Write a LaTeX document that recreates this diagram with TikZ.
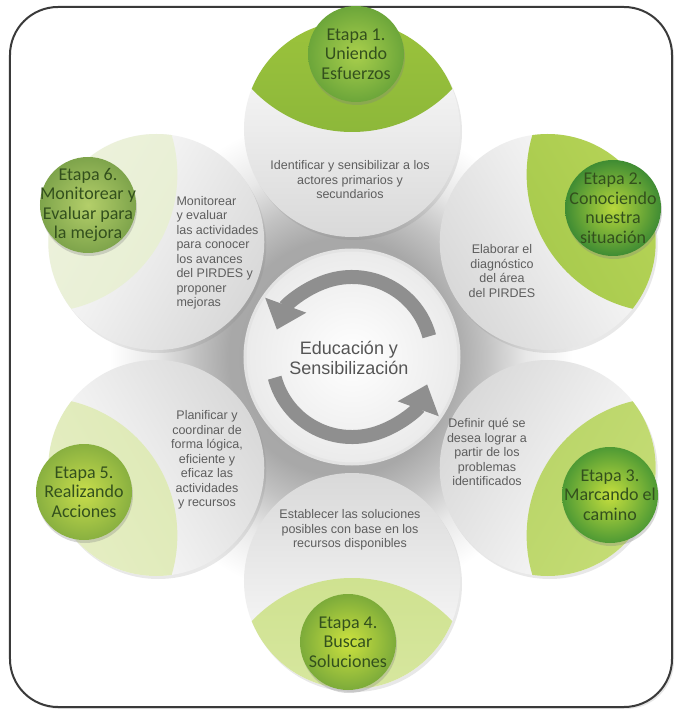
\documentclass[tikz,border=0pt]{standalone}
\usepackage{fontspec}
\setmainfont{Liberation Sans}
\newfontfamily\stagefont{Carlito}
\usepackage{xcolor}
\usepackage{tikz}
\usetikzlibrary{arrows.meta,shadows}

\definecolor{framegray}{HTML}{3A3A3A}
\definecolor{descgray}{HTML}{5E5E5E}
\definecolor{hubgray}{HTML}{555555}
\definecolor{cycgray}{HTML}{8F8F8F}
\definecolor{stagegreen}{HTML}{33501D}
% lens colours (outer, inner)
\definecolor{lensAo}{HTML}{B0D23E}\definecolor{lensAi}{HTML}{8DB83A}
\definecolor{lensBo}{HTML}{C6DE62}\definecolor{lensBi}{HTML}{A9CB4E}
\definecolor{lensCo}{HTML}{D3E585}\definecolor{lensCi}{HTML}{BBD66A}
\definecolor{lensDo}{HTML}{E2EDB4}\definecolor{lensDi}{HTML}{CFE290}
\definecolor{lensEo}{HTML}{EDF3D2}\definecolor{lensEi}{HTML}{DFEAB8}
\definecolor{lensFo}{HTML}{F3F6E6}\definecolor{lensFi}{HTML}{E8EFD4}
% ball colours (inner, outer)
\definecolor{ballAi}{HTML}{A9CF4C}\definecolor{ballAo}{HTML}{6CA63A}
\definecolor{ballBi}{HTML}{B9D83C}\definecolor{ballBo}{HTML}{3F8C33}
\definecolor{ballCi}{HTML}{C6DF3E}\definecolor{ballCo}{HTML}{4E9A34}
\definecolor{ballDi}{HTML}{CCE23F}\definecolor{ballDo}{HTML}{7CAB3A}
\definecolor{ballEi}{HTML}{C8DE4C}\definecolor{ballEo}{HTML}{89B040}
\definecolor{ballFi}{HTML}{B4CF6A}\definecolor{ballFo}{HTML}{7EA44B}

% frame boundary sits at 25bp
\pgfdeclareradialshading{haze}{\pgfpoint{0bp}{0bp}}{color(0bp)=(gray!75); color(8.5bp)=(gray!68); color(11bp)=(gray!48); color(14bp)=(gray!18); color(17.5bp)=(white); color(50bp)=(white)}

\begin{document}
\begin{tikzpicture}
    [x=1pt,y=1pt,
    frame/.style={draw=framegray,line width=2pt,rounded corners=48pt},
    petal/.style={shape=circle,minimum size=216pt,inner sep=0pt,top color=white,bottom color=gray!30,
      drop shadow={opacity=0.18,shadow xshift=2pt,shadow yshift=-3pt}},
    hub/.style={shape=circle,minimum size=214pt,inner sep=0pt,draw=gray!22,line width=3pt,inner color=white,outer color=gray!16},
    ball/.style={shape=circle,minimum size=96pt,inner sep=0pt,
      drop shadow={opacity=0.3,shadow xshift=1pt,shadow yshift=-3pt}},
    stage/.style={font=\stagefont\fontsize{18}{19.5}\selectfont,text=stagegreen,align=center},
    desc/.style={font=\fontsize{12.5}{14.5}\selectfont,text=descgray,align=center},
    cyc/.style={draw=cycgray,line width=14pt,-{Triangle[width=42pt,length=26pt]}}]

    \useasboundingbox (-352,-354) rectangle (326,355);
    \draw [frame,shading=haze,drop shadow={opacity=0.2,shadow xshift=2pt,shadow yshift=-2pt}] (-342,348) rectangle (320,-352);

    % Etapa 1
    \node (p1) [petal,shading angle=0] at (90:226) {};
    \begin{scope}
      \clip (p1.center) circle (108);
      \shade [top color=lensAo,bottom color=lensAi,shading angle=0] (90:361) circle (138);
    \end{scope}
    \node (b1) [ball,inner color=ballAi,outer color=ballAo] at (4,301) {};
    \node (s1) [stage] at (b1) {Etapa 1.\\Uniendo\\Esfuerzos};
    \node (d1) [desc] at (-2,175) {Identificar y sensibilizar a los\\actores primarios y\\secundarios};

    % Etapa 2
    \node (p2) [petal,shading angle=-60] at (30:226) {};
    \begin{scope}
      \clip (p2.center) circle (108);
      \shade [top color=lensBo,bottom color=lensBi,shading angle=-60] (30:361) circle (138);
    \end{scope}
    \node (b2) [ball,inner color=ballBi,outer color=ballBo] at (261,147) {};
    \node (s2) [stage] at (b2) {Etapa 2.\\Conociendo\\nuestra\\situación};
    \node (d2) [desc] at (150,84) {Elaborar el\\diagnóstico\\del área\\del PIRDES};

    % Etapa 3
    \node (p3) [petal,shading angle=-120] at (-30:226) {};
    \begin{scope}
      \clip (p3.center) circle (108);
      \shade [top color=lensCo,bottom color=lensCi,shading angle=-120] (-30:361) circle (138);
    \end{scope}
    \node (b3) [ball,inner color=ballCi,outer color=ballCo] at (258,-140) {};
    \node (s3) [stage] at (b3) {Etapa 3.\\Marcando el\\camino};
    \node (d3) [desc] at (135,-97) {Definir qué se\\desea lograr a\\partir de los\\problemas\\identificados};

    % Etapa 4
    \node (p4) [petal,shading angle=180] at (-90:226) {};
    \begin{scope}
      \clip (p4.center) circle (108);
      \shade [top color=lensDo,bottom color=lensDi,shading angle=180] (-90:361) circle (138);
    \end{scope}
    \node (b4) [ball,inner color=ballDi,outer color=ballDo] at (-4,-287) {};
    \node (s4) [stage] at (b4) {Etapa 4.\\Buscar\\Soluciones};
    \node (d4) [desc] at (-2,-175) {Establecer las soluciones\\posibles con base en los\\recursos disponibles};

    % Etapa 5
    \node (p5) [petal,shading angle=120] at (210:226) {};
    \begin{scope}
      \clip (p5.center) circle (108);
      \shade [top color=lensEo,bottom color=lensEi,shading angle=120] (210:361) circle (138);
    \end{scope}
    \node (b5) [ball,inner color=ballEi,outer color=ballEo] at (-268,-137) {};
    \node (s5) [stage] at (b5) {Etapa 5.\\Realizando\\Acciones};
    \node (d5) [desc] at (-145,-105) {Planificar y\\coordinar de\\forma lógica,\\eficiente y\\eficaz las\\actividades\\y recursos};

    % Etapa 6
    \node (p6) [petal,shading angle=60] at (150:226) {};
    \begin{scope}
      \clip (p6.center) circle (108);
      \shade [top color=lensFo,bottom color=lensFi,shading angle=60] (150:361) circle (138);
    \end{scope}
    \node (b6) [ball,inner color=ballFi,outer color=ballFo] at (-264,150) {};
    \node (s6) [stage] at (b6) {Etapa 6.\\Monitorear y\\Evaluar para\\la mejora};
    \node (d6) [desc,align=left,anchor=west] at (-179,102) {Monitorear\\y evaluar\\las actividades\\para conocer\\los avances\\del PIRDES y\\proponer\\mejoras};

    % centro
    \node (hub) [hub] at (0,-2) {};
    \draw [cyc] ([shift={(15:80)}]hub.center) arc [start angle=15,end angle=160,radius=80];
    \draw [cyc] ([shift={(195:80)}]hub.center) arc [start angle=195,end angle=340,radius=80];
    \node (hubtext) [font=\fontsize{18}{20}\selectfont,text=hubgray,align=center] at (-3,-3) {Educación y\\Sensibilización};

\end{tikzpicture}
\end{document}
